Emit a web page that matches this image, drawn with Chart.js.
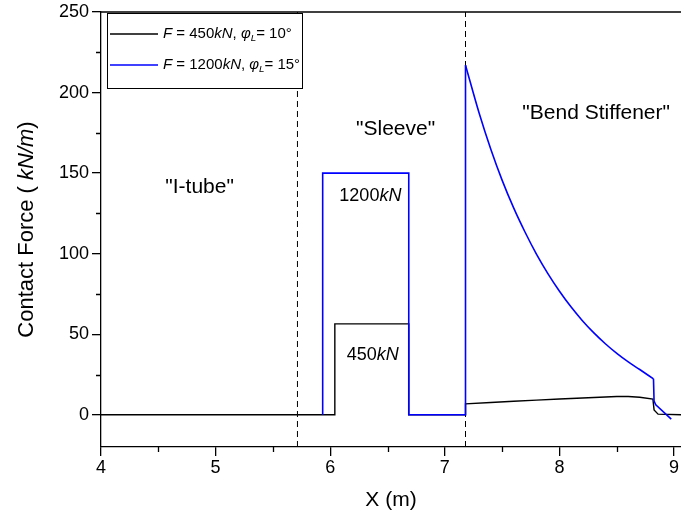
<!DOCTYPE html>
<html>
<head>
<meta charset="utf-8">
<script src="https://cdn.jsdelivr.net/npm/chart.js@4/dist/chart.umd.min.js"></script>
<style>
  html, body { margin: 0; padding: 0; background: #fff; }
  #wrap { width: 681px; height: 521px; position: relative; }
</style>
</head>
<body>
<div id="wrap"><canvas id="c" width="681" height="521"></canvas></div>
<script>
// Contact force along the riser: I-tube / sleeve / bend stiffener zones
const xBlack = [4.0, 6.04, 6.04, 6.685, 6.685, 7.18, 7.18, 7.4, 7.6, 7.8, 8.0, 8.2, 8.4, 8.5, 8.6, 8.7, 8.815, 8.825, 8.86, 9.06];
const yBlack = [0, 0, 56.4, 56.4, 0, 0, 6.8, 7.6, 8.4, 9.1, 9.8, 10.4, 11.0, 11.3, 11.3, 10.9, 9.7, 3.0, 0.4, 0];

// 1200 kN case: sleeve block, then the stiffener decay, then the tip
const xBlueSleeve = [5.934, 5.934, 6.685, 6.685, 7.18, 7.18];
const yBlueSleeve = [0, 150, 150, 0, 0, 217];
const xBlueStiffener = [7.18, 7.3, 7.4, 7.5, 7.6, 7.7, 7.8, 7.9, 8.0, 8.1, 8.2, 8.3, 8.4, 8.5, 8.6, 8.7, 8.82];
const yBlueStiffener = [217, 187, 165, 145.5, 128.4, 113.3, 99.6, 87.5, 76.7, 67.0, 58.4, 50.8, 44.1, 38.1, 32.8, 28.1, 22.3];
const xBlueTip = [8.82, 8.825, 8.84, 8.975];
const yBlueTip = [22.3, 8.5, 6.2, -2.7];

const zoneBounds = [5.714, 7.18];
const xTicks = [4, 5, 6, 7, 8, 9];
const yTicks = [0, 50, 100, 150, 200, 250];
const xMinor = [4.5, 5.5, 6.5, 7.5, 8.5];
const yMinor = [25, 75, 125, 175, 225];

const legendRows = [
  { color: '#000000', force: '450', angle: '10°' },
  { color: '#0000ff', force: '1200', angle: '15°' }
];
const zoneLabels = [
  { text: '"I-tube"', x: 4.86, y: 141 },
  { text: '"Sleeve"', x: 6.57, y: 177 },
  { text: '"Bend Stiffener"', x: 8.32, y: 187 }
];
const loadLabels = [
  { value: '1200', x: 6.35, y: 136 },
  { value: '450', x: 6.37, y: 37 }
];

const FONT = '"Liberation Sans", Arial, sans-serif';
const BLUE = '#0000ff';

function pts(xs, ys) { return xs.map((x, i) => ({ x: x, y: ys[i] })); }

// text runs with mixed italic / subscript pieces
function pieceWidth(ctx, p, size) {
  const s = p.sub ? size * 0.65 : size;
  ctx.font = (p.italic ? 'italic ' : '') + s + 'px ' + FONT;
  return ctx.measureText(p.t).width;
}
function drawRich(ctx, parts, x, y, size, align) {
  let total = 0;
  for (const p of parts) total += pieceWidth(ctx, p, size);
  let cx = align === 'center' ? x - total / 2 : (align === 'right' ? x - total : x);
  ctx.textBaseline = 'middle';
  ctx.textAlign = 'left';
  for (const p of parts) {
    const w = pieceWidth(ctx, p, size);
    ctx.fillText(p.t, cx, p.sub ? y + size * 0.3 : y);
    cx += w;
  }
}

const decorations = {
  id: 'decorations',
  afterDraw(chart) {
    const ctx = chart.ctx;
    const xs = chart.scales.x, ys = chart.scales.y;
    const a = chart.chartArea;
    ctx.save();
    ctx.strokeStyle = '#000';
    ctx.fillStyle = '#000';
    ctx.lineWidth = 1.3;

    // top frame line
    ctx.beginPath();
    ctx.moveTo(a.left, a.top);
    ctx.lineTo(a.right, a.top);
    ctx.stroke();

    // minor ticks
    ctx.beginPath();
    for (const v of yMinor) {
      const py = Math.round(ys.getPixelForValue(v)) + 0.5;
      ctx.moveTo(a.left - 5, py);
      ctx.lineTo(a.left, py);
    }
    for (const v of xMinor) {
      const px = Math.round(xs.getPixelForValue(v)) + 0.5;
      ctx.moveTo(px, a.bottom);
      ctx.lineTo(px, a.bottom + 5);
    }
    ctx.stroke();

    // legend box (opaque, sits over the zone divider)
    const lx = 107, ly = 13, lw = 195, lh = 75;
    ctx.fillStyle = '#fff';
    ctx.fillRect(lx, ly, lw + 1, lh + 1);
    ctx.lineWidth = 1;
    ctx.strokeStyle = '#000';
    ctx.strokeRect(lx + 0.5, ly + 0.5, lw, lh);
    legendRows.forEach((r, i) => {
      const yy = ly + 21 + i * 31;
      ctx.strokeStyle = r.color;
      ctx.lineWidth = 1.5;
      ctx.beginPath();
      ctx.moveTo(lx + 3, yy);
      ctx.lineTo(lx + 51, yy);
      ctx.stroke();
      ctx.fillStyle = '#000';
      drawRich(ctx, [
        { t: 'F', italic: true },
        { t: ' = ' + r.force },
        { t: 'kN', italic: true },
        { t: ', ' },
        { t: 'φ', italic: true },
        { t: 'L', italic: true, sub: true },
        { t: '= ' + r.angle }
      ], lx + 56, yy, 15, 'left');
    });

    // zone captions
    ctx.fillStyle = '#000';
    for (const z of zoneLabels) {
      drawRich(ctx, [{ t: z.text }], xs.getPixelForValue(z.x), ys.getPixelForValue(z.y), 21, 'center');
    }
    for (const l of loadLabels) {
      drawRich(ctx, [{ t: l.value }, { t: 'kN', italic: true }],
        xs.getPixelForValue(l.x), ys.getPixelForValue(l.y), 18, 'center');
    }

    // axis titles
    drawRich(ctx, [{ t: 'X (m)' }], (a.left + a.right) / 2, 500, 21, 'center');
    ctx.translate(27, (a.top + a.bottom) / 2);
    ctx.rotate(-Math.PI / 2);
    drawRich(ctx, [{ t: 'Contact Force ( ' }, { t: 'kN/m', italic: true }, { t: ')' }], 0, 0, 22, 'center');
    ctx.restore();
  }
};

new Chart(document.getElementById('c'), {
  type: 'scatter',
  data: {
    datasets: [
      { data: pts(xBlueSleeve, yBlueSleeve), borderColor: BLUE, borderWidth: 1.6 },
      { data: pts(xBlueStiffener, yBlueStiffener), borderColor: BLUE, borderWidth: 1.6, cubicInterpolationMode: 'monotone' },
      { data: pts(xBlueTip, yBlueTip), borderColor: BLUE, borderWidth: 1.6 },
      { data: pts(xBlack, yBlack), borderColor: '#000000', borderWidth: 1.4 },
      { data: pts([zoneBounds[0], zoneBounds[0]], [-20, 250]), borderColor: '#000', borderWidth: 1, borderDash: [6, 4] },
      { data: pts([zoneBounds[1], zoneBounds[1]], [-20, 250]), borderColor: '#000', borderWidth: 1, borderDash: [6, 4] }
    ]
  },
  options: {
    responsive: false,
    animation: false,
    showLine: true,
    elements: { point: { radius: 0, hoverRadius: 0 }, line: { tension: 0, fill: false } },
    layout: { padding: { top: 12, right: 0, left: 0, bottom: 0 } },
    plugins: { legend: { display: false }, tooltip: { enabled: false } },
    scales: {
      x: {
        type: 'linear', min: 4, max: 9.06,
        afterBuildTicks: s => { s.ticks = xTicks.map(v => ({ value: v })); },
        afterFit: s => { s.height = 74; s.paddingLeft = 0; s.paddingRight = 0; },
        grid: { drawOnChartArea: false, drawTicks: true, tickLength: 9, color: '#000', lineWidth: 1.3 },
        border: { display: true, color: '#000', width: 1.3 },
        ticks: { color: '#000', font: { family: FONT, size: 18, lineHeight: 0.9 }, padding: 4, maxRotation: 0,
                 callback: v => String(v) }
      },
      y: {
        type: 'linear', min: -20, max: 250,
        afterBuildTicks: s => { s.ticks = yTicks.map(v => ({ value: v })); },
        afterFit: s => { s.width = 101; },
        grid: { drawOnChartArea: false, drawTicks: true, tickLength: 9, color: '#000', lineWidth: 1.3 },
        border: { display: true, color: '#000', width: 1.3 },
        ticks: { color: '#000', font: { family: FONT, size: 18, lineHeight: 0.9 }, padding: 3,
                 callback: v => String(v) }
      }
    }
  },
  plugins: [decorations]
});
</script>
</body>
</html>
